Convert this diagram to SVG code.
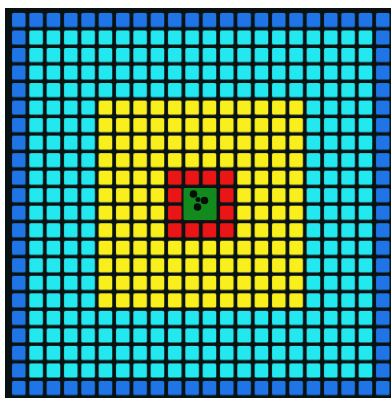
<svg xmlns="http://www.w3.org/2000/svg" width="391" height="398" viewBox="0 0 391 398">
  <defs>
    <pattern id="pBlue" patternUnits="userSpaceOnUse" x="10" y="11" width="17.333" height="17.524">
      <rect x="2" y="2" width="13.6" height="14" rx="1.5" fill="#1f74e6"/>
    </pattern>
    <pattern id="pCyan" patternUnits="userSpaceOnUse" x="10" y="11" width="17.333" height="17.524">
      <rect x="2" y="2" width="13.6" height="14" rx="1.5" fill="#24e8ef"/>
    </pattern>
    <pattern id="pYellow" patternUnits="userSpaceOnUse" x="10" y="11" width="17.333" height="17.524">
      <rect x="2" y="2" width="13.6" height="14" rx="1.5" fill="#f9ef1c"/>
    </pattern>
    <pattern id="pRed" patternUnits="userSpaceOnUse" x="10" y="11" width="17.333" height="17.524">
      <rect x="2" y="2" width="13.6" height="14" rx="1.5" fill="#ea1515"/>
    </pattern>
  </defs>
  <rect x="0" y="0" width="391" height="398" fill="#ffffff"/>
  <rect x="5" y="8" width="386" height="390" fill="#081212"/>
  <g id="grid">
    <rect id="blue-ring" x="10" y="11" width="381" height="386.5" fill="url(#pBlue)"/>
    <rect id="cyan-zone" x="27.333" y="28.524" width="346.667" height="350.476" fill="#081212"/>
    <rect x="27.333" y="28.524" width="346.667" height="350.476" fill="url(#pCyan)"/>
    <rect id="yellow-zone" x="96.667" y="98.619" width="208" height="210.286" fill="#081212"/>
    <rect x="96.667" y="98.619" width="208" height="210.286" fill="url(#pYellow)"/>
    <rect id="red-zone" x="166" y="168.714" width="69.333" height="70.095" fill="#081212"/>
    <rect x="166" y="168.714" width="69.333" height="70.095" fill="url(#pRed)"/>
    <g id="center">
      <rect x="183.5" y="188" width="33" height="32" rx="1.5" fill="#128a1e"/>
      <circle cx="193.5" cy="194" r="3.8" fill="#051005"/>
      <circle cx="204.5" cy="200.5" r="3.8" fill="#051005"/>
      <circle cx="197.5" cy="207" r="3.8" fill="#051005"/>
      <circle cx="198" cy="199.5" r="2.5" fill="#051005"/>
    </g>
  </g>
</svg>
